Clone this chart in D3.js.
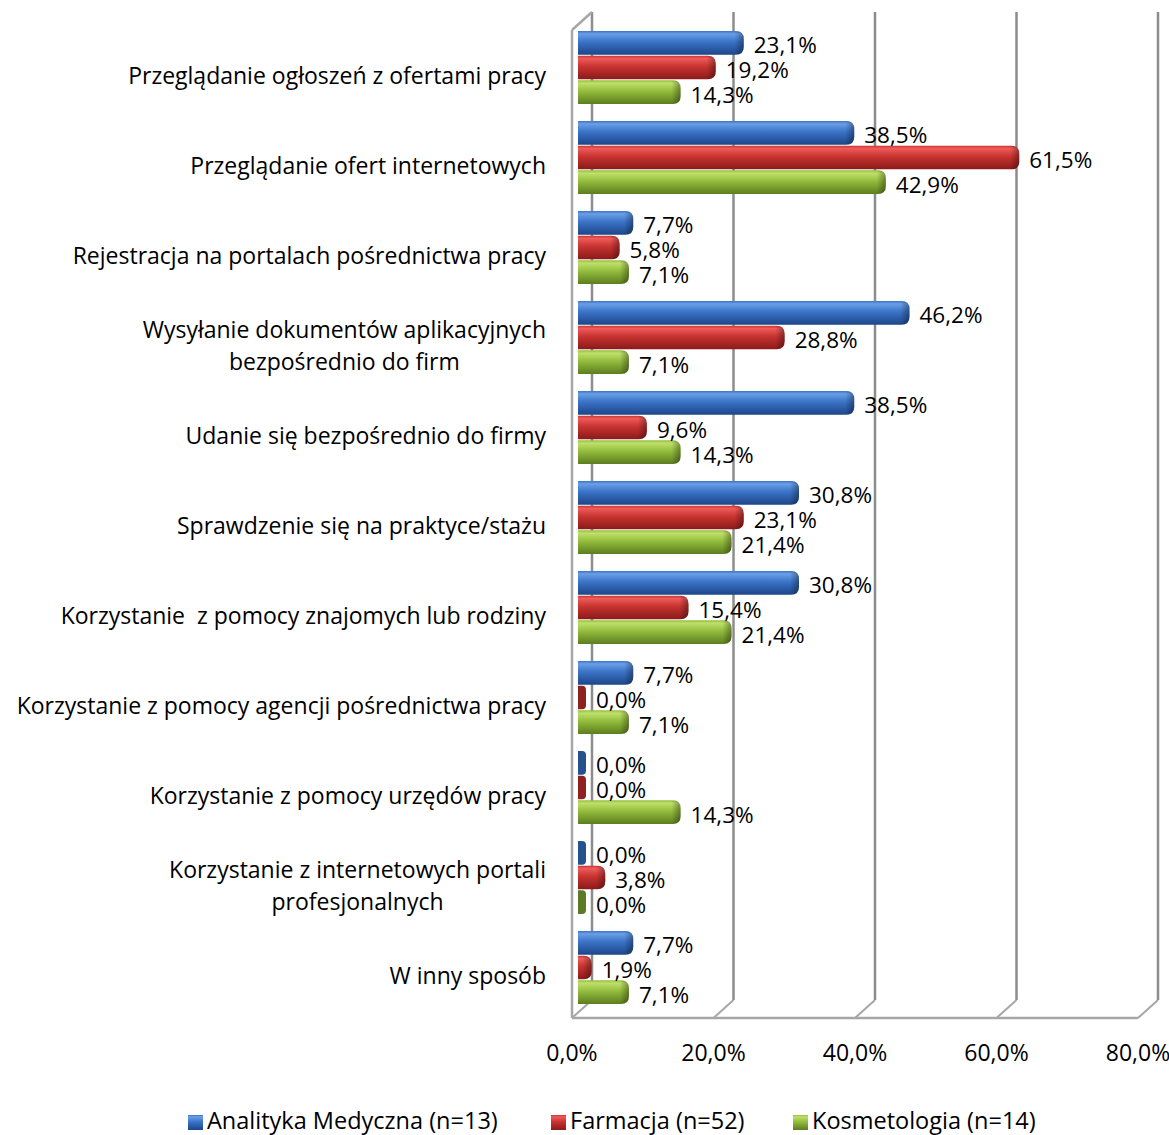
<!DOCTYPE html>
<html lang="pl">
<head>
<meta charset="utf-8">
<script src="https://cdn.jsdelivr.net/npm/d3@7"></script>
<style>
  body { margin: 0; background: #fff; }
  svg { display: block; font-family: "Open Sans", "Noto Sans", sans-serif; }
  .cat { font-size: 23px; fill: #000; white-space: pre; }
  .val { font-size: 22.5px; fill: #000; }
  .tick { font-size: 23px; fill: #000; }
  .leg { font-size: 23.5px; fill: #000; }
</style>
</head>
<body>
<svg id="chart" width="1169" height="1135"></svg>
<script>
// categories (top to bottom), multi-line labels split with "\n"
const categories = [
  "Przeglądanie ogłoszeń z ofertami pracy",
  "Przeglądanie ofert internetowych",
  "Rejestracja na portalach pośrednictwa pracy",
  "Wysyłanie dokumentów aplikacyjnych\nbezpośrednio do firm",
  "Udanie się bezpośrednio do firmy",
  "Sprawdzenie się na praktyce/stażu",
  "Korzystanie  z pomocy znajomych lub rodziny",
  "Korzystanie z pomocy agencji pośrednictwa pracy",
  "Korzystanie z pomocy urzędów pracy",
  "Korzystanie z internetowych portali\nprofesjonalnych",
  "W inny sposób"
];

const seriesNames = ["Analityka Medyczna (n=13)", "Farmacja (n=52)", "Kosmetologia (n=14)"];

const analityka    = [0.231, 0.385, 0.077, 0.462, 0.385, 0.308, 0.308, 0.077, 0.000, 0.000, 0.077];
const farmacja     = [0.192, 0.615, 0.058, 0.288, 0.096, 0.231, 0.154, 0.000, 0.000, 0.038, 0.019];
const kosmetologia = [0.143, 0.429, 0.071, 0.071, 0.143, 0.214, 0.214, 0.071, 0.143, 0.000, 0.071];

const xTicks = [0, 0.2, 0.4, 0.6, 0.8];

const seriesValues = [analityka, farmacja, kosmetologia];

const palette = [
  { light: "#6a9fe6", mid: "#3b74c8", dark: "#1d4688", zero: "#27508f" },
  { light: "#ee5b58", mid: "#c83431", dark: "#8a1a19", zero: "#8e2221" },
  { light: "#bfe06a", mid: "#94bd3e", dark: "#5c7d1f", zero: "#5b7a27" }
];

const pl = d3.formatLocale({ decimal: ",", thousands: " ", grouping: [3], currency: ["", " zł"], percent: "%" });
const fmt = pl.format(".1%");

const svg = d3.select("#chart");

// 3D geometry
const depthX = 20, depthY = -18;
const floorY = 1018;
const wallTop = 30;

const xFront = d3.scaleLinear().domain([0, 0.8]).range([572, 1138]);
const xBar = d3.scaleLinear().domain([0, 0.8]).range([578, 1152]);

const y = d3.scaleBand().domain(categories).range([31, 1021]);
const ySub = d3.scaleBand().domain(seriesNames).range([-46, 28]);

// gradients
const defs = svg.append("defs");
palette.forEach((p, i) => {
  const g = defs.append("linearGradient")
    .attr("id", "grad" + i)
    .attr("x1", 0).attr("y1", 0).attr("x2", 0).attr("y2", 1);
  g.append("stop").attr("offset", "0%").attr("stop-color", p.mid);
  g.append("stop").attr("offset", "12%").attr("stop-color", p.light);
  g.append("stop").attr("offset", "45%").attr("stop-color", p.mid);
  g.append("stop").attr("offset", "100%").attr("stop-color", p.dark);
});
const capGrad = defs.append("linearGradient")
  .attr("id", "cap").attr("x1", 0).attr("y1", 0).attr("x2", 1).attr("y2", 0);
capGrad.append("stop").attr("offset", "0%").attr("stop-color", "#000").attr("stop-opacity", 0);
capGrad.append("stop").attr("offset", "100%").attr("stop-color", "#000").attr("stop-opacity", 0.35);

// walls and grid
const grid = svg.append("g")
  .attr("fill", "none")
  .attr("stroke", "#8c8c8c");

// back wall verticals
grid.selectAll("line.back")
  .data(xTicks)
  .join("line")
  .attr("class", "back")
  .attr("x1", d => xFront(d) + depthX).attr("x2", d => xFront(d) + depthX)
  .attr("y1", wallTop + depthY).attr("y2", floorY + depthY)
  .attr("stroke-width", 2.5);

// floor diagonals
grid.selectAll("line.diag")
  .data(xTicks)
  .join("line")
  .attr("class", "diag")
  .attr("x1", d => xFront(d)).attr("x2", d => xFront(d) + depthX)
  .attr("y1", floorY).attr("y2", floorY + depthY)
  .attr("stroke", "#a6a6a6")
  .attr("stroke-width", 2);

// floor front edge
grid.append("line")
  .attr("x1", xFront(0)).attr("x2", xFront(0.8))
  .attr("y1", floorY).attr("y2", floorY)
  .attr("stroke", "#a6a6a6").attr("stroke-width", 2.5);

// left wall front edge and top edge
grid.append("line")
  .attr("x1", xFront(0)).attr("x2", xFront(0))
  .attr("y1", wallTop).attr("y2", floorY)
  .attr("stroke", "#a6a6a6").attr("stroke-width", 2.5);
grid.append("line")
  .attr("x1", xFront(0)).attr("x2", xFront(0) + depthX)
  .attr("y1", wallTop).attr("y2", wallTop + depthY)
  .attr("stroke", "#a6a6a6").attr("stroke-width", 2.5);

// bars
const rows = [];
categories.forEach((c, ci) => {
  seriesNames.forEach((s, si) => {
    rows.push({ cat: c, series: s, si: si, value: seriesValues[si][ci] });
  });
});

function barPath(x0, x1, y0, h, r) {
  const w = Math.max(x1 - x0, r);
  const rr = Math.min(r, w);
  return `M${x0},${y0}H${x0 + w - rr}Q${x0 + w},${y0} ${x0 + w},${y0 + rr}` +
    `V${y0 + h - rr}Q${x0 + w},${y0 + h} ${x0 + w - rr},${y0 + h}H${x0}Z`;
}

const barH = ySub.bandwidth();
const bars = svg.append("g").selectAll("g")
  .data(rows)
  .join("g");

bars.append("path")
  .attr("d", d => {
    const top = y(d.cat) + y.bandwidth() / 2 + ySub(d.series);
    if (d.value === 0) return barPath(xBar(0), xBar(0) + 8, top + 1, barH - 1, 4);
    return barPath(xBar(0), xBar(d.value), top + 1, barH - 1, 8);
  })
  .attr("fill", d => d.value === 0 ? palette[d.si].zero : `url(#grad${d.si})`);

// darker rounded end cap
bars.filter(d => d.value > 0)
  .append("path")
  .attr("d", d => {
    const top = y(d.cat) + y.bandwidth() / 2 + ySub(d.series);
    const x1 = xBar(d.value);
    return barPath(x1 - 9, x1, top + 1, barH - 1, 8);
  })
  .attr("fill", "url(#cap)");

// value labels
svg.append("g").selectAll("text")
  .data(rows)
  .join("text")
  .attr("class", "val")
  .attr("x", d => (d.value === 0 ? xBar(0) + 8 : xBar(d.value)) + 10)
  .attr("y", d => y(d.cat) + y.bandwidth() / 2 + ySub(d.series) + barH / 2 + 3)
  .attr("dy", "0.35em")
  .text(d => fmt(d.value));

// category labels
const catG = svg.append("g").selectAll("text")
  .data(categories)
  .join("text")
  .attr("class", "cat")
  .attr("y", d => y(d) + y.bandwidth() / 2);

catG.each(function (d) {
  const lines = d.split("\n");
  const t = d3.select(this);
  if (lines.length === 1) {
    t.attr("x", 546).attr("text-anchor", "end").attr("dy", "0.35em").text(d);
    return;
  }
  // multi-line block: centred lines, block right-aligned at 546
  const widths = lines.map(l => {
    const m = t.append("tspan").text(l);
    const w = m.node().getComputedTextLength();
    m.remove();
    return w;
  });
  const cx = 546 - d3.max(widths) / 2;
  t.attr("text-anchor", "middle");
  lines.forEach((l, i) => {
    t.append("tspan")
      .attr("x", cx)
      .attr("y", y(d) + y.bandwidth() / 2 + (i - (lines.length - 1) / 2) * 32)
      .attr("dy", "0.35em")
      .text(l);
  });
});

// x tick labels
svg.append("g").selectAll("text")
  .data(xTicks)
  .join("text")
  .attr("class", "tick")
  .attr("x", d => xFront(d))
  .attr("y", 1053)
  .attr("text-anchor", "middle")
  .attr("dy", "0.35em")
  .text(d => fmt(d));

// legend
const legX = [188, 551, 793];
const leg = svg.append("g").selectAll("g")
  .data(seriesNames)
  .join("g")
  .attr("transform", (d, i) => `translate(${legX[i]},1120)`);

leg.append("rect")
  .attr("x", 0).attr("y", -5)
  .attr("width", 15).attr("height", 15)
  .attr("fill", (d, i) => `url(#grad${i})`);

leg.append("text")
  .attr("class", "leg")
  .attr("x", 19)
  .attr("y", 1)
  .attr("dy", "0.35em")
  .text(d => d);
</script>
</body>
</html>
